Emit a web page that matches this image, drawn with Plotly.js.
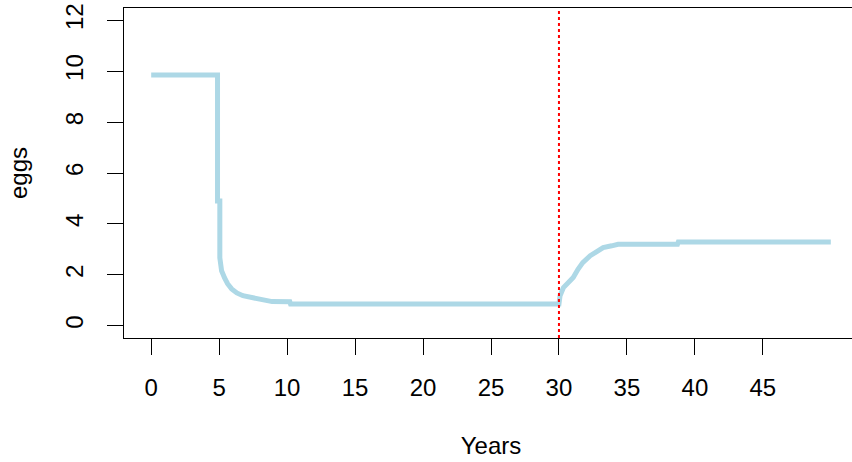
<!DOCTYPE html>
<html>
<head>
<meta charset="utf-8">
<script src="https://cdn.plot.ly/plotly-3.0.1.min.js"></script>
<style>
html, body { margin: 0; padding: 0; overflow: hidden; background: #fff; }
#chart { width: 862px; height: 462px; }
</style>
</head>
<body>
<div id="chart"></div>
<script>
// Data
const years = [0, 4.88, 4.88, 5.05, 5.05, 5.18, 5.4, 5.62, 5.92, 6.3, 6.75, 7.4, 8.15, 8.9, 10.2, 10.25, 30, 30.08, 30.33, 30.68, 31.05, 31.4, 31.75, 32.3, 32.78, 33.25, 33.88, 34.35, 38.72, 38.78, 50];
const eggs  = [9.85, 9.85, 4.9, 4.9, 2.67, 2.16, 1.88, 1.65, 1.45, 1.29, 1.18, 1.10, 1.02, 0.95, 0.94, 0.86, 0.86, 1.18, 1.5, 1.7, 1.9, 2.22, 2.48, 2.75, 2.94, 3.07, 3.14, 3.2, 3.2, 3.29, 3.29];
const xTicks = [0, 5, 10, 15, 20, 25, 30, 35, 40, 45];
const yTicks = [0, 2, 4, 6, 8, 10, 12];
const markerYear = 30;

const font = { family: 'Liberation Sans, Arial, sans-serif', size: 24, color: '#000' };

const trace = {
  x: years, y: eggs, type: 'scatter', mode: 'lines',
  line: { color: '#ADD8E6', width: 5 },
  hoverinfo: 'skip'
};

const layout = {
  width: 862, height: 462,
  margin: { l: 124, r: 4, t: 8, b: 124 },
  paper_bgcolor: '#fff', plot_bgcolor: '#fff',
  showlegend: false,
  font: font,
  xaxis: {
    range: [-2, 52], showgrid: false, zeroline: false,
    showline: true, mirror: true, linecolor: '#000', linewidth: 1,
    ticks: 'outside', ticklen: 16, tickwidth: 1, tickcolor: '#000',
    tickvals: xTicks, ticktext: xTicks.map(String),
    ticklabelstandoff: 12,
    tickfont: font,
    title: { text: 'Years', font: font, standoff: 37 }
  },
  yaxis: {
    range: [-0.48, 12.48], showgrid: false, zeroline: false,
    showline: true, mirror: true, linecolor: '#000', linewidth: 1,
    ticks: 'outside', ticklen: 16, tickwidth: 1, tickcolor: '#000',
    tickvals: yTicks, ticktext: yTicks.map(String),
    tickangle: -90,
    ticklabelstandoff: 14,
    tickfont: font,
    title: { text: 'eggs', font: font, standoff: 27 }
  },
  shapes: [{
    type: 'line', xref: 'x', yref: 'paper',
    x0: markerYear, x1: markerYear, y0: 0, y1: 1,
    line: { color: '#FF0000', width: 2, dash: 'dot' }
  }]
};

Plotly.newPlot('chart', [trace], layout, { staticPlot: true, displayModeBar: false });
</script>
</body>
</html>
